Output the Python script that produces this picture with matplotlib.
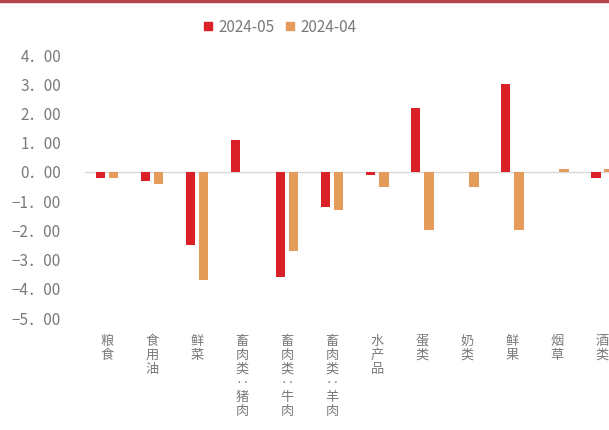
import matplotlib.pyplot as plt
import numpy as np
from matplotlib.lines import Line2D

plt.rcParams['font.family'] = ['Noto Sans CJK SC', 'DejaVu Sans']

categories = ['粮食', '食用油', '鲜菜', '畜肉类:猪肉', '畜肉类:牛肉', '畜肉类:羊肉',
              '水产品', '蛋类', '奶类', '鲜果', '烟草', '酒类']
may_2024 = [-0.2, -0.3, -2.5, 1.1, -3.6, -1.2, -0.1, 2.2, 0.0, 3.0, 0.0, -0.2]
apr_2024 = [-0.2, -0.4, -3.7, 0.0, -2.7, -1.3, -0.5, -2.0, -0.5, -2.0, 0.1, 0.1]
yticks = [4, 3, 2, 1, 0, -1, -2, -3, -4, -5]

red = '#DA2127'
orange = '#E59C5A'
grey = '#7A7A7A'


def vertical(label):
    # 竖排标签，冒号换成横向两点
    return '\n'.join(label.replace(':', '\u2025'))


def ytick_label(v):
    s = f'{abs(v):.2f}'.replace('.', '\uff0e')
    return ('\u2212' if v < 0 else '') + s


fig = plt.figure(figsize=(6.09, 4.30), dpi=100)
ax = fig.add_axes([0.139, 0.26, 0.887, 0.612])

x = np.arange(len(categories))
w = 0.21
ax.bar(x - 0.145, may_2024, width=w, color=red, zorder=3)
ax.bar(x + 0.145, apr_2024, width=w, color=orange, zorder=3)
ax.axhline(0, color='#D9D9D9', lw=1, zorder=2)

ax.set_xlim(-0.5, len(categories) - 0.5)
ax.set_ylim(-5, 4)
ax.set_yticks(yticks)
ax.set_yticklabels([ytick_label(v) for v in yticks], fontsize=11, color=grey)
ax.set_xticks(x)
ax.set_xticklabels([vertical(c) for c in categories], fontsize=9.5, color=grey,
                   linespacing=1.1, va='top')
ax.tick_params(length=0, axis='y', pad=17)
ax.tick_params(length=0, axis='x', pad=12)
for s in ax.spines.values():
    s.set_visible(False)

handles = [Line2D([], [], marker='s', ls='', color=red, markersize=6),
           Line2D([], [], marker='s', ls='', color=orange, markersize=6)]
fig.legend(handles, ['2024-05', '2024-04'], loc='center', ncol=2,
           bbox_to_anchor=(0.459, 0.937), frameon=False, fontsize=11,
           handlelength=0.8, handletextpad=0.3, columnspacing=0.6,
           labelcolor=grey)

# 顶部红色装饰线
fig.add_artist(Line2D([0, 1], [0.997, 0.997], color='#B5454B', lw=2.5,
                      transform=fig.transFigure))

fig.savefig('out.png', dpi=100)
